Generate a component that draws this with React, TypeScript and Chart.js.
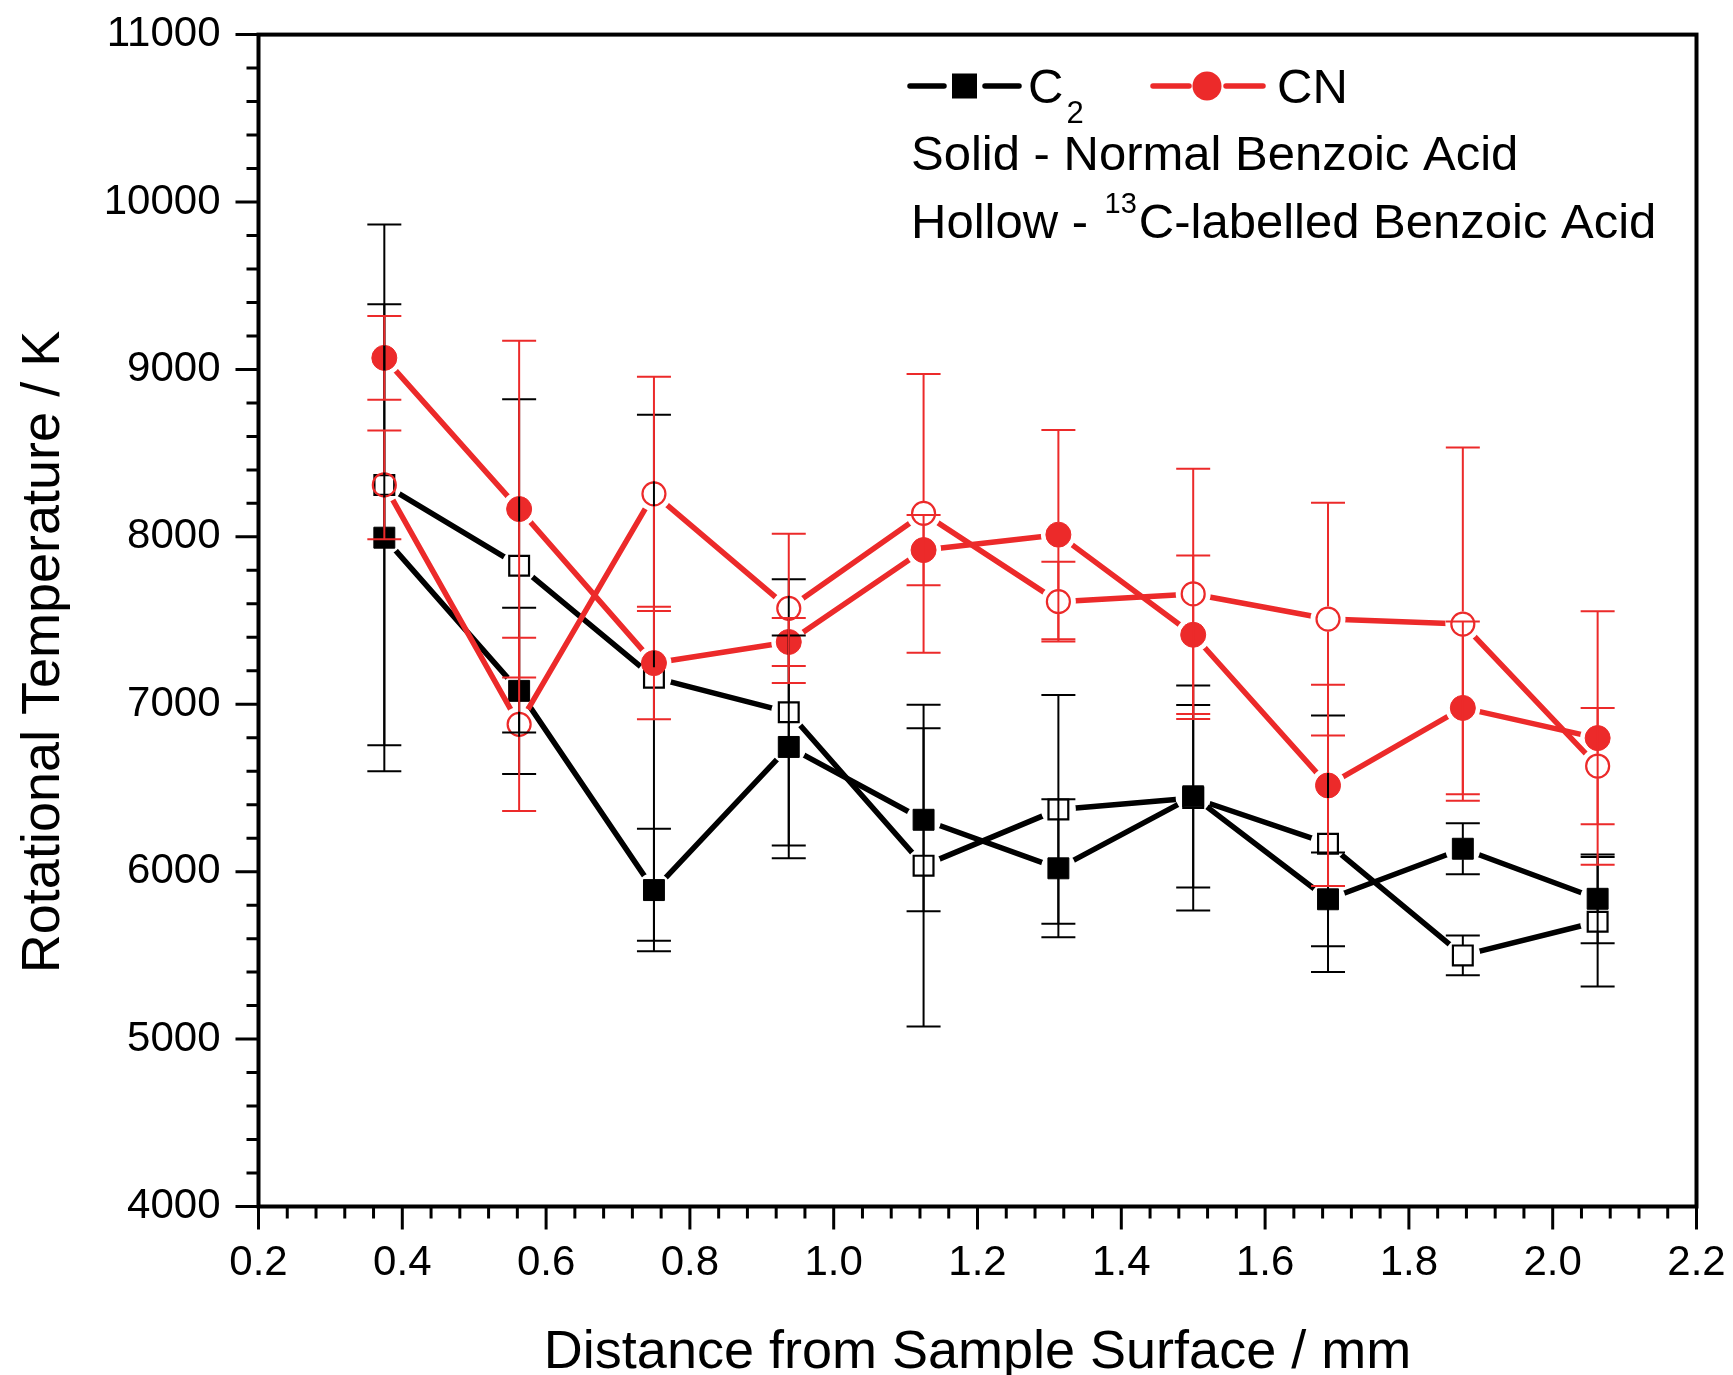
import React, { useEffect, useRef } from 'react';
import { Chart, registerables } from 'chart.js';

Chart.register(...registerables);

// ---------------- data ----------------
const distances = [0.375, 0.5625, 0.75, 0.9375, 1.125, 1.3125, 1.5, 1.6875, 1.875, 2.0625];

const c2Solid = [7995, 7080, 5890, 6745, 6310, 6020, 6450, 5835, 6137, 5838];
const c2SolidErr = [1395, 496, 366, 665, 546, 412, 545, 280, 152, 265];

const c2Hollow = [8310, 7827, 7159, 6952, 6036, 6372, 6440, 6167, 5500, 5701];
const c2HollowErr = [1555, 995, 1571, 795, 961, 683, 672, 766, 119, 387];

const cnSolid = [9069, 8166, 7246, 7372, 7921, 8013, 7415, 6515, 6978, 6798];
const cnSolidErr = [250, 1006, 336, 143, 210, 625, 473, 601, 516, 757];

const cnHollow = [8310, 6880, 8257, 7573, 8140, 7613, 7659, 7509, 7479, 6631];
const cnHollowErr = [325, 517, 700, 446, 833, 238, 747, 695, 1055, 347];

const xTickValues = [0.2, 0.4, 0.6, 0.8, 1.0, 1.2, 1.4, 1.6, 1.8, 2.0, 2.2];
const yTickValues = [4000, 5000, 6000, 7000, 8000, 9000, 10000, 11000];

const xTitle = 'Distance from Sample Surface / mm';
const yTitle = 'Rotational Temperature / K';
const legendC2 = 'C';
const legendC2Sub = '2';
const legendCN = 'CN';
const noteSolid = 'Solid - Normal Benzoic Acid';
const noteHollowPre = 'Hollow - ';
const noteHollowSup = '13';
const noteHollowPost = 'C-labelled Benzoic Acid';

// ---------------- styles ----------------
const FONT = "'Liberation Sans', Arial, Helvetica, sans-serif";
const BLACK = '#000000';
const RED = '#EC2A2A';

type Series = {
  values: number[];
  errors: number[];
  color: string;
  style: 'rect' | 'circle';
  filled: boolean;
  radius: number;
  half: number;
};

const series: Series[] = [
  { values: c2Solid, errors: c2SolidErr, color: BLACK, style: 'rect', filled: true, radius: 14.8, half: 10.5 },
  { values: c2Hollow, errors: c2HollowErr, color: BLACK, style: 'rect', filled: false, radius: 14, half: 10.5 },
  { values: cnSolid, errors: cnSolidErr, color: RED, style: 'circle', filled: true, radius: 12.5, half: 12.5 },
  { values: cnHollow, errors: cnHollowErr, color: RED, style: 'circle', filled: false, radius: 11.5, half: 12.5 },
];

const gapPlugin = {
  id: 'gapClip',
  beforeDatasetDraw(chart: any, args: any) {
    const ds = chart.data.datasets[args.index];
    if (!ds.gapRadius) return;
    const ctx = chart.ctx;
    ctx.save();
    ctx.beginPath();
    ctx.rect(0, 0, chart.width, chart.height);
    args.meta.data.forEach((p: any) => {
      ctx.moveTo(p.x + ds.gapRadius, p.y);
      ctx.arc(p.x, p.y, ds.gapRadius, 0, Math.PI * 2);
    });
    ctx.clip('evenodd');
  },
  afterDatasetDraw(chart: any, args: any) {
    const ds = chart.data.datasets[args.index];
    if (!ds.gapRadius) return;
    chart.ctx.restore();
  },
};

const errorBarPlugin = {
  id: 'errorBars',
  afterDatasetsDraw(chart: any) {
    const ctx = chart.ctx;
    const xs = chart.scales.x;
    const ys = chart.scales.y;
    const cap = 17;
    ctx.save();
    ctx.lineWidth = 2;
    ctx.lineCap = 'butt';
    series.forEach((s) => {
      ctx.strokeStyle = s.color;
      distances.forEach((x, i) => {
        const px = xs.getPixelForValue(x);
        const py = ys.getPixelForValue(s.values[i]);
        const top = ys.getPixelForValue(s.values[i] + s.errors[i]);
        const bot = ys.getPixelForValue(s.values[i] - s.errors[i]);
        const g = s.half;
        ctx.beginPath();
        if (py - g > top) {
          ctx.moveTo(px, py - g);
          ctx.lineTo(px, top);
        }
        if (py + g < bot) {
          ctx.moveTo(px, py + g);
          ctx.lineTo(px, bot);
        }
        ctx.moveTo(px - cap, top);
        ctx.lineTo(px + cap, top);
        ctx.moveTo(px - cap, bot);
        ctx.lineTo(px + cap, bot);
        ctx.stroke();
      });
    });
    ctx.restore();
  },
};

const framePlugin = {
  id: 'frameAndText',
  afterDraw(chart: any) {
    const ctx = chart.ctx;
    const xs = chart.scales.x;
    const ys = chart.scales.y;
    const { left, right, top, bottom } = chart.chartArea;
    ctx.save();
    // frame
    ctx.strokeStyle = BLACK;
    ctx.lineWidth = 4;
    ctx.strokeRect(left, top, right - left, bottom - top);

    // y ticks
    ctx.lineWidth = 3;
    ctx.beginPath();
    yTickValues.forEach((v, i) => {
      const y = ys.getPixelForValue(v);
      ctx.moveTo(left - 23, y);
      ctx.lineTo(left, y);
      if (i < yTickValues.length - 1) {
        const step = (yTickValues[i + 1] - v) / 5;
        for (let k = 1; k < 5; k++) {
          const ym = ys.getPixelForValue(v + k * step);
          ctx.moveTo(left - 12, ym);
          ctx.lineTo(left, ym);
        }
      }
    });
    // x ticks
    xTickValues.forEach((v, i) => {
      const x = xs.getPixelForValue(v);
      ctx.moveTo(x, bottom);
      ctx.lineTo(x, bottom + 23);
      if (i < xTickValues.length - 1) {
        const step = (xTickValues[i + 1] - v) / 5;
        for (let k = 1; k < 5; k++) {
          const xm = xs.getPixelForValue(v + k * step);
          ctx.moveTo(xm, bottom);
          ctx.lineTo(xm, bottom + 12);
        }
      }
    });
    ctx.stroke();

    // axis titles
    ctx.fillStyle = BLACK;
    ctx.font = `54px ${FONT}`;
    ctx.textAlign = 'center';
    ctx.textBaseline = 'alphabetic';
    ctx.fillText(xTitle, (left + right) / 2, 1368);
    ctx.save();
    ctx.translate(59, 652);
    ctx.rotate(-Math.PI / 2);
    ctx.fillText(yTitle, 0, 0);
    ctx.restore();

    // legend
    ctx.lineCap = 'round';
    ctx.lineWidth = 5.5;
    const ly = 86;
    ctx.strokeStyle = BLACK;
    ctx.beginPath();
    ctx.moveTo(910, ly);
    ctx.lineTo(944, ly);
    ctx.moveTo(985, ly);
    ctx.lineTo(1019, ly);
    ctx.stroke();
    ctx.fillStyle = BLACK;
    ctx.fillRect(952, ly - 12.5, 25, 25);

    ctx.strokeStyle = RED;
    ctx.beginPath();
    ctx.moveTo(1153, ly);
    ctx.lineTo(1189, ly);
    ctx.moveTo(1226, ly);
    ctx.lineTo(1263, ly);
    ctx.stroke();
    ctx.fillStyle = RED;
    ctx.beginPath();
    ctx.arc(1207, ly, 14.5, 0, Math.PI * 2);
    ctx.fill();

    ctx.fillStyle = BLACK;
    ctx.textAlign = 'left';
    ctx.font = `49px ${FONT}`;
    ctx.fillText(legendC2, 1028, 103);
    const cw = ctx.measureText(legendC2).width;
    ctx.font = `31px ${FONT}`;
    ctx.fillText(legendC2Sub, 1028 + cw + 3, 123);
    ctx.font = `49px ${FONT}`;
    ctx.fillText(legendCN, 1277, 103);

    ctx.fillText(noteSolid, 911, 170);
    ctx.fillText(noteHollowPre, 911, 238);
    const pw = ctx.measureText(noteHollowPre).width;
    ctx.font = `29px ${FONT}`;
    ctx.fillText(noteHollowSup, 911 + pw + 3, 213);
    const sw = ctx.measureText(noteHollowSup).width;
    ctx.font = `49px ${FONT}`;
    ctx.fillText(noteHollowPost, 911 + pw + 3 + sw + 2, 238);

    ctx.restore();
  },
};

const zeroPadding = (scale: any) => {
  scale.paddingTop = 0;
  scale.paddingBottom = 0;
  scale.paddingLeft = 0;
  scale.paddingRight = 0;
};

export default function App() {
  const canvasRef = useRef<HTMLCanvasElement | null>(null);

  useEffect(() => {
    const canvas = canvasRef.current;
    if (!canvas) return;

    const datasets: any[] = [];
    series.forEach((s, k) => {
      const data = distances.map((x, i) => ({ x, y: s.values[i] }));
      datasets.push({
        data,
        borderColor: s.color,
        backgroundColor: s.color,
        borderWidth: 5.5,
        borderCapStyle: 'round',
        borderJoinStyle: 'round',
        pointRadius: 0,
        pointHoverRadius: 0,
        showLine: true,
        fill: false,
        tension: 0,
        order: 100 - k * 2,
        gapRadius: 17.5,
      });
      datasets.push({
        data,
        showLine: false,
        pointStyle: s.style,
        pointRadius: s.radius,
        pointHoverRadius: s.radius,
        pointBackgroundColor: s.filled ? s.color : 'rgba(0,0,0,0)',
        pointBorderColor: s.color,
        pointBorderWidth: s.filled ? 1 : 2.2,
        order: 99 - k * 2,
      });
    });

    const chart = new Chart(canvas, {
      type: 'line',
      data: { datasets },
      options: {
        responsive: false,
        maintainAspectRatio: false,
        devicePixelRatio: 1,
        animation: false,
        events: [],
        layout: { padding: { top: 34.6, right: 36.5, left: 0, bottom: 0 } },
        plugins: {
          legend: { display: false },
          tooltip: { enabled: false },
          title: { display: false },
        },
        scales: {
          x: {
            type: 'linear',
            min: 0.2,
            max: 2.2,
            afterBuildTicks: (scale: any) => {
              scale.ticks = xTickValues.map((v) => ({ value: v }));
            },
            afterFit: (scale: any) => {
              scale.height = 168.5;
              zeroPadding(scale);
            },
            grid: { display: false, drawTicks: false },
            border: { display: false },
            ticks: {
              autoSkip: false,
              maxRotation: 0,
              minRotation: 0,
              padding: 32,
              color: BLACK,
              font: { family: FONT, size: 42 },
              callback: (v: any) => Number(v).toFixed(1),
            },
          },
          y: {
            type: 'linear',
            min: 4000,
            max: 11000,
            afterBuildTicks: (scale: any) => {
              scale.ticks = yTickValues.map((v) => ({ value: v }));
            },
            afterFit: (scale: any) => {
              scale.width = 258.5;
              zeroPadding(scale);
            },
            grid: { display: false, drawTicks: false },
            border: { display: false },
            ticks: {
              autoSkip: false,
              padding: 38,
              color: BLACK,
              font: { family: FONT, size: 42 },
              callback: (v: any) => String(v),
            },
          },
        },
      } as any,
      plugins: [gapPlugin, errorBarPlugin, framePlugin],
    });

    return () => {
      chart.destroy();
    };
  }, []);

  return (
    <div style={{ position: 'absolute', left: 0, top: 0, width: 1733, height: 1375, background: '#ffffff' }}>
      <canvas ref={canvasRef} width={1733} height={1375} style={{ display: 'block' }} />
    </div>
  );
}
